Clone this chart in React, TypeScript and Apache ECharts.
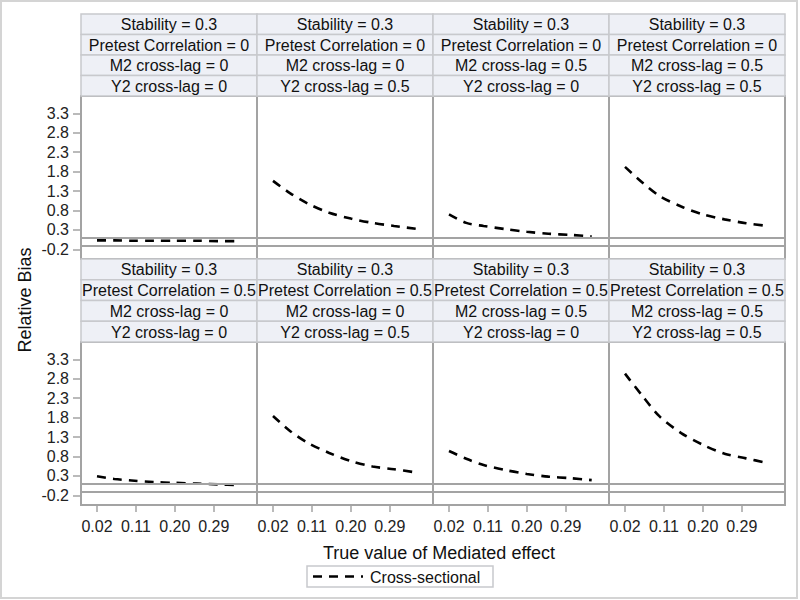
import React, { useEffect, useRef } from "react";
import * as echarts from "echarts";

// ---- data ----
const trueEffect = [0.02, 0.06, 0.1, 0.15, 0.2, 0.25, 0.3, 0.35];
const xTickValues = [0.02, 0.11, 0.2, 0.29];
const yTickValues = [-0.2, 0.3, 0.8, 1.3, 1.8, 2.3, 2.8, 3.3];

const stabilityLabels = ["0.3", "0.3"];
const pretestLabels = ["0", "0.5"];
const m2Labels = ["0", "0", "0.5", "0.5"];
const y2Labels = ["0", "0.5", "0", "0.5"];

const biasR0C0 = [0.03, 0.03, 0.02, 0.02, 0.02, 0.02, 0.01, 0.01];
const biasR0C1 = [1.56, 1.24, 0.98, 0.74, 0.59, 0.48, 0.4, 0.33];
const biasR0C2 = [0.7, 0.48, 0.4, 0.32, 0.25, 0.2, 0.17, 0.13];
const biasR0C3 = [1.92, 1.52, 1.17, 0.9, 0.7, 0.57, 0.47, 0.4];
const biasR1C0 = [0.29, 0.22, 0.18, 0.14, 0.12, 0.1, 0.08, 0.06];
const biasR1C1 = [1.84, 1.45, 1.15, 0.89, 0.68, 0.54, 0.47, 0.39];
const biasR1C2 = [0.94, 0.74, 0.58, 0.45, 0.35, 0.28, 0.24, 0.19];
const biasR1C3 = [2.93, 2.36, 1.83, 1.4, 1.1, 0.87, 0.75, 0.63];
const panelBias = [
  [biasR0C0, biasR0C1, biasR0C2, biasR0C3],
  [biasR1C0, biasR1C1, biasR1C2, biasR1C3],
];
const referenceLines = [0.1, -0.1];
const seriesName = "Cross-sectional";
const xTitle = "True value of Mediated effect";
const yTitle = "Relative Bias";

// ---- layout ----
const FONT = 'Arial, "Liberation Sans", sans-serif';
const colLeft = [81, 257, 433, 609];
const colWidth = 176;
const rowPlotTop = [96, 342];
const plotHeight = 163;
const rowHeaderTop = [14, 259];
const headerRowH = [20.5, 20.75];

export default function App() {
  const ref = useRef<HTMLDivElement>(null);
  useEffect(() => {
    document.body.style.margin = "0";
    if (!ref.current) return;
    const chart = echarts.init(ref.current, null, { renderer: "svg" });

    const grids: any[] = [];
    const xAxes: any[] = [];
    const yAxes: any[] = [];
    const series: any[] = [];
    const graphics: any[] = [];

    for (let r = 0; r < 2; r++) {
      for (let c = 0; c < 4; c++) {
        const i = r * 4 + c;
        grids.push({
          left: colLeft[c],
          top: rowPlotTop[r],
          width: colWidth,
          height: plotHeight,
          show: true,
          borderColor: "#a3a3a3",
          borderWidth: 2,
          backgroundColor: "#fff",
        });
        const showX = r === 1;
        const showY = c === 0;
        xAxes.push({
          type: "value",
          gridIndex: i,
          position: "bottom",
          min: -0.017,
          max: 0.39,
          axisLine: { show: false, onZero: false },
          splitLine: { show: false },
          axisTick: {
            show: showX,
            customValues: xTickValues,
            length: 7,
            lineStyle: { color: "#a3a3a3", width: 1.5 },
          },
          axisLabel: {
            show: showX,
            customValues: xTickValues,
            formatter: (v: number) => v.toFixed(2),
            fontFamily: FONT,
            fontSize: 16,
            color: "#222",
            margin: 13,
          },
        });
        yAxes.push({
          type: "value",
          gridIndex: i,
          position: "left",
          min: -0.45,
          max: 3.745,
          axisLine: { show: false, onZero: false },
          splitLine: { show: false },
          axisTick: {
            show: showY,
            customValues: yTickValues,
            length: 8,
            lineStyle: { color: "#a3a3a3", width: 1.5 },
          },
          axisLabel: {
            show: showY,
            customValues: yTickValues,
            formatter: (v: number) => v.toFixed(1),
            fontFamily: FONT,
            fontSize: 16,
            color: "#222",
            margin: 12,
          },
        });
        series.push({
          type: "line",
          name: seriesName,
          xAxisIndex: i,
          yAxisIndex: i,
          data: trueEffect.map((x, k) => [x, panelBias[r][c][k]]),
          showSymbol: false,
          smooth: 0.3,
          lineStyle: { color: "#000", width: 2.6, type: [9, 7] },
          markLine: {
            silent: true,
            symbol: "none",
            label: { show: false },
            lineStyle: { color: "#a3a3a3", width: 2, type: "solid" },
            data: referenceLines.map((v) => ({ yAxis: v })),
          },
          z: 3,
        });

        // header cells
        const texts = [
          `Stability = ${stabilityLabels[r]}`,
          `Pretest Correlation = ${pretestLabels[r]}`,
          `M2 cross-lag = ${m2Labels[c]}`,
          `Y2 cross-lag = ${y2Labels[c]}`,
        ];
        texts.forEach((t, k) => {
          const y = rowHeaderTop[r] + k * headerRowH[r];
          graphics.push({
            type: "rect",
            shape: { x: colLeft[c], y, width: colWidth, height: headerRowH[r] },
            style: { fill: "#eef0f6", stroke: "#c8c9cd", lineWidth: 1.5 },
            z: 10,
          });
          graphics.push({
            type: "text",
            x: colLeft[c] + colWidth / 2,
            y: y + headerRowH[r] / 2 + 0.5,
            style: {
              text: t,
              fontFamily: FONT,
              fontSize: 16,
              fill: "#111",
              align: "center",
              verticalAlign: "middle",
            },
            z: 11,
          });
        });
      }
    }

    // outer frame
    graphics.push({
      type: "rect",
      shape: { x: 1, y: 1, width: 796, height: 597 },
      style: { fill: "none", stroke: "#d4d4d4", lineWidth: 2 },
      z: 1,
    });
    // axis titles
    graphics.push({
      type: "text",
      x: 25,
      y: 300,
      rotation: Math.PI / 2,
      style: {
        text: yTitle,
        fontFamily: FONT,
        fontSize: 18,
        fill: "#111",
        align: "center",
        verticalAlign: "middle",
      },
      z: 11,
    });
    graphics.push({
      type: "text",
      x: 439,
      y: 553,
      style: {
        text: xTitle,
        fontFamily: FONT,
        fontSize: 18,
        fill: "#111",
        align: "center",
        verticalAlign: "middle",
      },
      z: 11,
    });
    // legend
    graphics.push({
      type: "rect",
      shape: { x: 307, y: 566, width: 186, height: 21 },
      style: { fill: "#fff", stroke: "#c8c9cd", lineWidth: 1.5 },
      z: 10,
    });
    graphics.push({
      type: "line",
      shape: { x1: 313, y1: 576.5, x2: 363, y2: 576.5 },
      style: { stroke: "#000", lineWidth: 2.6, lineDash: [9, 7] },
      z: 11,
    });
    graphics.push({
      type: "text",
      x: 370,
      y: 577,
      style: {
        text: seriesName,
        fontFamily: FONT,
        fontSize: 16,
        fill: "#111",
        align: "left",
        verticalAlign: "middle",
      },
      z: 11,
    });

    chart.setOption({
      animation: false,
      backgroundColor: "#fff",
      grid: grids,
      xAxis: xAxes,
      yAxis: yAxes,
      series,
      graphic: graphics,
    });
    return () => chart.dispose();
  }, []);
  return <div ref={ref} style={{ width: 800, height: 600 }} />;
}
